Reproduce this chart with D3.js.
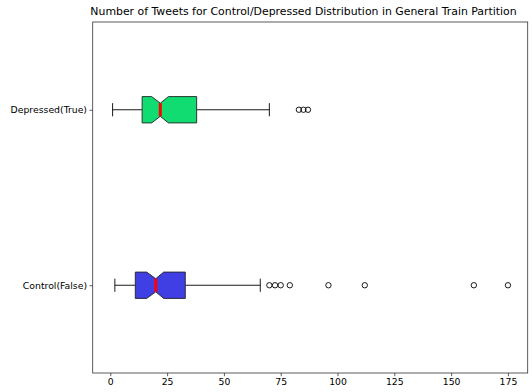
<!DOCTYPE html>
<html><head><meta charset="utf-8">
<script src="https://cdn.jsdelivr.net/npm/d3@7"></script>
<style>body{margin:0;background:#fff}svg{display:block}text{font-family:"DejaVu Sans",sans-serif}</style>
</head><body>
<script>
const categories = ["Control(False)", "Depressed(True)"];
const whiskerLo = [2, 1];
const q1 = [11, 14];
const notchLo = [16, 18.2];
const median = [20, 22];
const notchHi = [23.5, 25.6];
const q3 = [33, 38];
const whiskerHi = [66, 70];
const outliers = [[70, 72.5, 75, 79, 96, 112, 160, 175], [83, 85, 87]];
const boxColors = ["#3f3fe4", "#10dc72"];
const xTicks = [0, 25, 50, 75, 100, 125, 150, 175];
const title = "Number of Tweets for Control/Depressed Distribution in General Train Partition";

const W = 532, H = 392;
const L = 92.7, R = 527.7, T = 22, B = 373;
const svg = d3.select("body").append("svg").attr("width", W).attr("height", H);
const x = d3.scaleLinear().domain([-7.75, 183.7]).range([L, R]);
const y = d3.scaleLinear().domain([0.5, 2.5]).range([B, T]);
const bw = 0.15, half = bw / 2, nh = bw / 4;

categories.forEach((c, i) => {
  const p = i + 1;
  const g = svg.append("g");
  g.append("line").attr("x1", x(whiskerLo[i])).attr("x2", x(q1[i])).attr("y1", y(p)).attr("y2", y(p)).attr("stroke", "#000").attr("stroke-width", 0.9);
  g.append("line").attr("x1", x(q3[i])).attr("x2", x(whiskerHi[i])).attr("y1", y(p)).attr("y2", y(p)).attr("stroke", "#000").attr("stroke-width", 0.9);
  [whiskerLo[i], whiskerHi[i]].forEach(v => {
    g.append("line").attr("x1", x(v)).attr("x2", x(v)).attr("y1", y(p - nh)).attr("y2", y(p + nh)).attr("stroke", "#000").attr("stroke-width", 0.9);
  });
  const pts = [
    [q1[i], p - half], [notchLo[i], p - half], [median[i], p - nh], [notchHi[i], p - half],
    [q3[i], p - half], [q3[i], p + half], [notchHi[i], p + half], [median[i], p + nh],
    [notchLo[i], p + half], [q1[i], p + half]
  ];
  g.append("path").attr("d", d3.line().x(d => x(d[0])).y(d => y(d[1]))(pts) + "Z")
    .attr("fill", boxColors[i]).attr("stroke", "#222").attr("stroke-width", 0.9);
  g.append("line").attr("x1", x(median[i])).attr("x2", x(median[i])).attr("y1", y(p - nh)).attr("y2", y(p + nh)).attr("stroke", "#ff0000").attr("stroke-width", 3);
  outliers[i].forEach(v => {
    g.append("circle").attr("cx", x(v)).attr("cy", y(p)).attr("r", 2.7).attr("fill", "none").attr("stroke", "#000").attr("stroke-width", 0.9);
  });
});

svg.append("rect").attr("x", L).attr("y", T).attr("width", R - L).attr("height", B - T).attr("fill", "none").attr("stroke", "#333").attr("stroke-width", 0.8);

const xa = svg.append("g").attr("transform", `translate(0,${B})`).call(d3.axisBottom(x).tickValues(xTicks).tickSize(3.2).tickPadding(2.5).tickFormat(d3.format("d")));
xa.select(".domain").remove();
xa.selectAll("line").attr("stroke", "#333").attr("stroke-width", 0.8);
xa.selectAll("text").attr("font-size", "9.3px").attr("fill", "#000").attr("font-family", "DejaVu Sans");

const yb = d3.scaleOrdinal().domain(categories).range([y(1), y(2)]);
const ya = svg.append("g").attr("transform", `translate(${L},0)`).call(d3.axisLeft(yb).tickSize(3.2).tickPadding(2.5));
ya.select(".domain").remove();
ya.selectAll("line").attr("stroke", "#333").attr("stroke-width", 0.8);
ya.selectAll("text").attr("font-size", "9.3px").attr("fill", "#000").attr("font-family", "DejaVu Sans");

svg.append("text").attr("x", 303.5).attr("y", 15).attr("text-anchor", "middle").attr("font-size", "10.9px").attr("fill", "#000").text(title);
</script>
</body></html>
